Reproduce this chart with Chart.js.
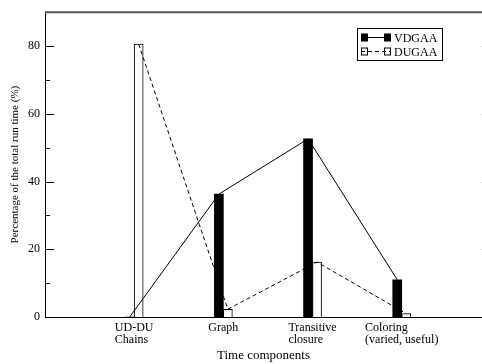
<!DOCTYPE html>
<html>
<head>
<meta charset="utf-8">
<script src="https://cdn.jsdelivr.net/npm/chart.js@4/dist/chart.umd.min.js"></script>
<style>body{margin:0;background:#fff}</style>
</head>
<body>
<canvas id="chart-components" width="482" height="364"></canvas>
<script>
// time components and share of the total run time (%)
const categories = [
  ['UD-DU', 'Chains'],
  ['Graph'],
  ['Transitive', 'closure'],
  ['Coloring', '(varied, useful)'],
]
const vdgaa = [0, 36.3, 52.6, 11.0]
const dugaa = [80.6, 2.3, 16.2, 1.0]

const serif = '"Liberation Serif", "DejaVu Serif", serif'
const barW = 9
const halfBar = 0.05 // half a bar, in category units: line vertices sit on bar centres

// frame, inward ticks, left-aligned category labels and boxed legend
const frame = {
  id: 'frame',
  afterDraw(chart) {
    const {ctx, chartArea: a, scales: {x, y}} = chart
    // the original right axis sits just past the cropped edge (x = 5)
    const rightAxis = x.getPixelForValue(5)
    ctx.save()
    ctx.strokeStyle = '#000'
    ctx.lineWidth = 1
    for (let v = 0; v <= 90; v += 10) {
      const py = Math.round(y.getPixelForValue(v)) + 0.5
      const len = v % 20 === 0 ? 9 : 5
      ctx.beginPath()
      ctx.moveTo(a.left, py); ctx.lineTo(a.left + len, py)
      ctx.moveTo(rightAxis, py); ctx.lineTo(rightAxis - len, py)
      ctx.stroke()
    }
    ctx.strokeStyle = '#555'
    ctx.lineWidth = 2
    ctx.beginPath()
    ctx.moveTo(a.left, a.top); ctx.lineTo(a.right, a.top)
    ctx.stroke()

    ctx.fillStyle = '#000'
    ctx.font = '12px ' + serif
    ctx.textAlign = 'left'
    ctx.textBaseline = 'alphabetic'
    categories.forEach((lines, i) => {
      const px = x.getPixelForValue(i + 1)
      const w = Math.max(...lines.map(t => ctx.measureText(t).width))
      lines.forEach((t, j) => ctx.fillText(t, px - w / 2, a.bottom + 14 + j * 12))
    })

    // legend
    ctx.strokeStyle = '#000'
    ctx.lineWidth = 1
    ctx.strokeRect(357.5, 28.5, 85, 32)
    const lineSets = chart.data.datasets.filter(d => d.type === 'line')
    lineSets.forEach((d, i) => {
      const cy = 37.5 + i * 14
      ctx.setLineDash(d.borderDash || [])
      ctx.beginPath()
      ctx.moveTo(361, cy); ctx.lineTo(391, cy)
      ctx.stroke()
      ctx.setLineDash([])
      if (d.borderDash) {
        ctx.strokeRect(361.5, cy - 3.5, 6, 7)
        ctx.strokeRect(384.5, cy - 3.5, 6, 7)
      } else {
        ctx.fillRect(361, cy - 4, 7, 8)
        ctx.fillRect(384, cy - 4, 7, 8)
      }
      ctx.textBaseline = 'middle'
      ctx.fillText(d.label, 394, cy + 1)
    })
    ctx.restore()
  }
}

const data_components = {
  datasets: [{
    type: 'line',
    label: 'VDGAA',
    data: vdgaa.map((v, i) => ({x: i + 1 - halfBar, y: v})),
    borderColor: '#000',
    borderWidth: 1,
    pointRadius: 0,
    order: 0,
  },
  {
    type: 'line',
    label: 'DUGAA',
    data: dugaa.map((v, i) => ({x: i + 1 + halfBar, y: v})),
    borderColor: '#000',
    borderWidth: 1,
    borderDash: [4, 3],
    pointRadius: 0,
    order: 0,
  },
  {
    type: 'bar',
    label: 'VDGAA',
    data: vdgaa.map((v, i) => ({x: i + 1, y: v})),
    backgroundColor: '#000',
    borderWidth: 0,
    barThickness: barW,
    order: 1,
  },
  {
    type: 'bar',
    label: 'DUGAA',
    data: dugaa.map((v, i) => ({x: i + 1, y: v})),
    backgroundColor: '#fff',
    borderColor: '#000',
    borderWidth: 1,
    barThickness: barW,
    order: 1,
  }]
}

const config_components = {
  type: 'bar',
  data: data_components,
  options: {
    responsive: false,
    animation: false,
    layout: {padding: {top: 6, right: 0, left: 0, bottom: 0}},
    scales: {
      x: {
        type: 'linear',
        min: 0,
        max: 4.9,
        offset: false,
        grid: {display: false, drawTicks: false},
        ticks: {display: false},
        border: {color: '#000', width: 1},
        title: {
          display: true,
          text: 'Time components',
          color: '#000',
          font: {family: serif, size: 13},
          padding: {top: 0, bottom: 1},
        },
        afterFit: s => { s.height = 47 },
      },
      y: {
        type: 'linear',
        min: 0,
        max: 90,
        grid: {display: false, drawTicks: false},
        border: {color: '#000', width: 1},
        ticks: {
          stepSize: 20,
          color: '#000',
          padding: 5,
          font: {family: serif, size: 12},
        },
        afterBuildTicks: s => { s.ticks = s.ticks.filter(t => t.value % 20 === 0) },
        title: {
          display: true,
          text: 'Percentage of the total run time (%)',
          color: '#000',
          font: {family: serif, size: 11},
          padding: {top: 9, bottom: 0},
        },
        afterFit: s => { s.width = 45 },
      }
    },
    plugins: {
      legend: {display: false},
      tooltip: {enabled: false},
    },
  },
  plugins: [frame],
}

const myChart_components = new Chart(
  document.getElementById('chart-components'),
  config_components
)
</script>
</body>
</html>
